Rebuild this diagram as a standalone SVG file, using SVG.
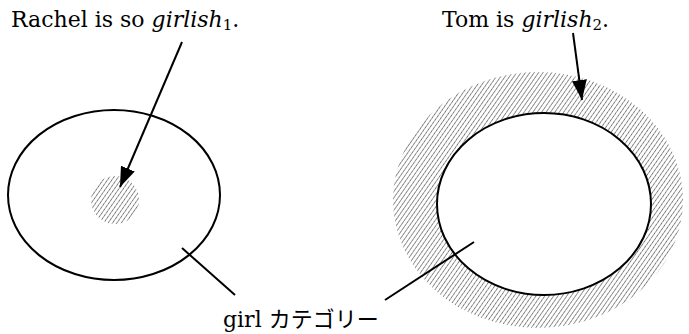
<svg xmlns="http://www.w3.org/2000/svg" width="689" height="334" viewBox="0 0 689 334">
<style>
.t{font-family:"DejaVu Serif","Liberation Serif","Noto Sans CJK JP",serif;font-size:22px;fill:#000}
.i{font-style:italic}
.ln{stroke:#000;stroke-width:2;fill:none}
.wh{stroke:#000;stroke-width:2;fill:#fff}
</style>
<defs>
<pattern id="hatch" patternUnits="userSpaceOnUse" width="3.6" height="4" patternTransform="rotate(35)">
<line x1="0" y1="0" x2="0" y2="4" stroke="#222" stroke-width="1.1" stroke-dasharray="1.7,0.5"/>
</pattern>
<marker id="ah" viewBox="0 0 20 15" refX="20" refY="7.5" markerWidth="20" markerHeight="15" markerUnits="userSpaceOnUse" orient="auto">
<path d="M0,0 L20,7.5 L0,15 z" fill="#000"/>
</marker>
</defs>
<rect width="689" height="334" fill="#fff"/>
<g id="left">
<ellipse cx="114" cy="195" rx="106" ry="85" class="ln"/>
<circle cx="115" cy="200" r="24" fill="url(#hatch)"/>
</g>
<g id="right">
<ellipse cx="538" cy="200" rx="145" ry="128" fill="url(#hatch)"/>
<ellipse cx="544" cy="204" rx="107" ry="91" class="wh"/>
</g>
<g id="label1"><text class="t" x="11" y="27">Rachel is so <tspan class="i">girlish</tspan><tspan font-size="15" dy="3">1</tspan><tspan dy="-3">.</tspan></text></g>
<g id="label2"><text class="t" x="442" y="27">Tom is <tspan class="i">girlish</tspan><tspan font-size="15" dy="3">2</tspan><tspan dy="-3">.</tspan></text></g>
<g id="label3"><text class="t" x="223" y="327">girl カテゴリー</text></g>
<g id="connectors">
<line x1="182" y1="42" x2="120" y2="187" class="ln" marker-end="url(#ah)" stroke-width="1.8"/>
<line x1="573" y1="33" x2="582" y2="100" class="ln" marker-end="url(#ah)" stroke-width="1.8"/>
<line x1="182" y1="248" x2="235" y2="295" class="ln" stroke-width="1.8"/>
<line x1="385" y1="300" x2="474" y2="242" class="ln" stroke-width="1.8"/>
</g>
</svg>
